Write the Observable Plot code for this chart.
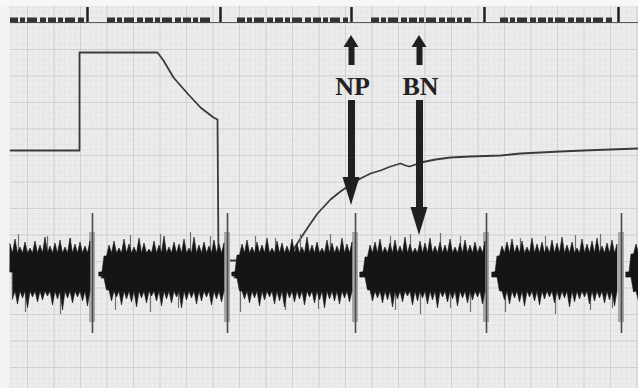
<!DOCTYPE html>
<html><head><meta charset="utf-8">
<script src="https://cdn.jsdelivr.net/npm/d3@7"></script>
<script src="https://cdn.jsdelivr.net/npm/@observablehq/plot@0.6"></script>
<style>html,body{margin:0;padding:0;background:#ececec;overflow:hidden}#chart svg{display:block}</style>
</head><body><div id="chart"></div>
<script>
// ---------- data (units: recorder mm, y downward) ----------
// Top channel: stimulus/event marker
const markerBaseline = 22;
const markerTicks = [87, 220, 351, 484, 618];
const markerBlocks = [[10, 85], [107, 213], [237, 348], [371, 471], [500, 612]];

// Middle channel: pressure trace
const pressure = [
  [10, 150], [79, 150], [79, 52], [157, 52], [163, 60], [173, 77], [187, 93], [200, 107],
  [213, 117], [217, 119], [218, 260], [288, 260], [293, 249], [300, 238], [310, 223],
  [317, 213], [330, 199], [340, 191], [350, 184], [360, 178], [370, 173], [380, 170],
  [390, 166], [400, 163], [405, 165], [409, 166], [415, 164], [420, 162], [435, 159],
  [450, 157], [470, 156], [500, 155], [520, 153], [540, 152], [560, 151], [583, 150],
  [610, 149], [638, 148]
];

// Bottom channel: EMG bursts, peak amplitudes above / below the trace centre, one peak every 5 mm
const emgCentre = 272;
const emgStep = 5;
const emgStarts = [10, 99, 232, 360, 492, 626];
const emgUp = [
  [28,33,25,30,24,31,27,35,26,29,32,25,34,28,30,26,31],
  [-4,16,27,31,24,33,28,25,34,29,23,31,27,36,25,30,28,33,24,35,27,30,26,32,28,29],
  [-4,17,28,32,25,30,27,34,24,31,29,26,33,28,25,35,27,30,24,32,29,26,34,28,30],
  [-5,15,27,30,33,25,29,32,26,35,28,24,31,29,34,26,30,27,33,25,29,32,27,30,26,31],
  [-5,16,26,30,33,27,31,25,34,28,30,26,32,29,35,27,30,24,33,28,31,34,26,29,32,28],
  [-5,18,28,31]
];
const emgDown = [
  [27,32,26,36,25,30,28,24,33,27,38,26,31,25,29,34,27],
  [6,18,29,25,33,27,30,35,26,31,24,29,34,27,31,25,36,28,26,32,29,25,33,27,30,28],
  [6,19,27,31,26,34,28,25,32,29,35,26,30,27,33,25,31,28,36,27,29,32,26,30,28],
  [5,18,29,26,31,28,35,27,30,24,33,29,26,32,28,36,25,30,27,34,26,31,28,25,32,29],
  [5,19,28,32,26,30,34,25,29,33,27,25,31,28,26,35,30,27,25,32,29,26,31,28,34,29],
  [5,20,29,27]
];
// occasional taller grey excursions [position, amplitude]
const strayUp = [[18,38],[47,36],[70,34],[130,37],[160,38],[190,40],[210,36],[255,36],[275,34],[300,38],[330,38],[390,36],[410,38],[440,39],[460,36],[520,34],[545,36],[575,37],[600,38]];
const strayDown = [[25,40],[60,42],[115,38],[150,40],[178,36],[240,40],[285,38],[318,37],[395,38],[420,42],[450,36],[470,40],[505,40],[555,42],[590,38],[612,36]];
// stimulus artefacts crossing the EMG channel
const artefacts = [92, 227, 355, 486, 621];
const artefactTop = 213, artefactBottom = 333;

// Annotations
const labels = ["NP", "BN"];
const labelX = [352, 420];
const labelY = 86;
const arrowUpTip = 35;
const arrowDownTip = [205, 235];

// ---------- build tables ----------
const emgCore = 19; // depth of the troughs between peaks (drawing style)
function jagged(side, amps, offset) {
  const out = [];
  emgStarts.forEach((s, b) => {
    const a = amps[b];
    const last = s + (emgUp[b].length - 1) * emgStep;
    a.forEach((v, i) => {
      const x = s + offset + i * emgStep;
      if (x > last) return;
      out.push({burst: b, x, amp: v});
      if (i < a.length - 1 && x + emgStep / 2 <= last)
        out.push({burst: b, x: x + emgStep / 2, amp: Math.min(emgCore, v, a[i + 1])});
    });
  });
  return out.map(d => ({...d, y: emgCentre + side * d.amp}));
}
const emgTop = jagged(-1, emgUp, 0);
const emgBottom = jagged(1, emgDown, emgStep / 2);

const headLen = 28, headUpLen = 12, headHalf = 7.5;
const heads = [];
labelX.forEach((x, k) => {
  const xs = x - 1;
  heads.push({z: "u" + k, x: xs - headHalf, y1: arrowUpTip + headUpLen, y2: arrowUpTip + headUpLen});
  heads.push({z: "u" + k, x: xs, y1: arrowUpTip + headUpLen, y2: arrowUpTip});
  heads.push({z: "u" + k, x: xs + headHalf, y1: arrowUpTip + headUpLen, y2: arrowUpTip + headUpLen});
  const b = arrowDownTip[k] - headLen;
  heads.push({z: "d" + k, x: xs - headHalf - 1, y1: b, y2: b});
  heads.push({z: "d" + k, x: xs, y1: b, y2: arrowDownTip[k]});
  heads.push({z: "d" + k, x: xs + headHalf + 1, y1: b, y2: b});
});
const arrowRows = labelX.map((x, k) => ({x: x - 1, tip: arrowDownTip[k]}));

const W = 638, H = 388;
const majorX = d3.range(0.5, W, 26.5).filter(v => v > 10);
const majorY = d3.range(22.5, H, 26.5);
const minorX = d3.range(0.5, W, 5.3).filter(v => v > 10);
const minorY = d3.range(1.3, H, 5.3).filter(v => v > 6);

const chart = Plot.plot({
  width: W, height: H, margin: 0,
  x: {domain: [0, W], axis: null},
  y: {domain: [0, H], reverse: true, axis: null},
  style: {background: "#ececec"},
  marks: [
    Plot.ruleX(minorX, {y1: 6, y2: H, stroke: "#d9d9d9", strokeWidth: 0.8, strokeDasharray: "1,1.65"}),
    Plot.ruleY(minorY, {x1: 10, x2: W, stroke: "#d9d9d9", strokeWidth: 0.8, strokeDasharray: "1,1.65"}),
    Plot.ruleX(majorX, {y1: 6, y2: H, stroke: "#d0d0d0", strokeWidth: 1}),
    Plot.ruleY(majorY, {x1: 10, x2: W, stroke: "#d0d0d0", strokeWidth: 1}),
    Plot.rect([0], {x1: 0, x2: 9, y1: 0, y2: H, fill: "#f3f3f3"}),
    Plot.rect([0], {x1: 0, x2: W, y1: 0, y2: 6, fill: "#f7f7f7"}),
    // event marker channel
    Plot.ruleY([markerBaseline], {x1: 10, x2: W, stroke: "#5a5a5a", strokeWidth: 1.1}),
    Plot.ruleY(markerBlocks, {y: 19.5, x1: d => d[0], x2: d => d[1], stroke: "#333", strokeWidth: 5, strokeDasharray: "8,2,5,2,10,3,6,2"}),
    Plot.ruleX(markerTicks, {y1: 7, y2: markerBaseline, stroke: "#1e1e1e", strokeWidth: 2.5}),
    // pressure trace
    Plot.line(pressure, {x: d => d[0], y: d => d[1], stroke: "#3a3a3a", strokeWidth: 1.8}),
    // EMG
    Plot.rect(artefacts, {x1: d => d - 3, x2: d => d + 3, y1: 232, y2: 322, fill: "#a8a8a8"}),
    Plot.ruleX(strayUp, {x: d => d[0], y1: emgCentre, y2: d => emgCentre - d[1], stroke: "#707070", strokeWidth: 1.2}),
    Plot.ruleX(strayDown, {x: d => d[0], y1: emgCentre, y2: d => emgCentre + d[1], stroke: "#707070", strokeWidth: 1.2}),
    Plot.areaY(emgTop, {x: "x", y1: emgCentre, y2: "y", z: "burst", fill: "#151515", stroke: "#151515", strokeWidth: 0.6}),
    Plot.areaY(emgBottom, {x: "x", y1: emgCentre, y2: "y", z: "burst", fill: "#151515", stroke: "#151515", strokeWidth: 0.6}),
    Plot.ruleX(artefacts, {y1: artefactTop, y2: artefactBottom, stroke: "#4a4a4a", strokeWidth: 1.6}),
    // arrows
    Plot.ruleX(arrowRows, {x: "x", y1: arrowUpTip + headUpLen - 1, y2: 65, stroke: "#202020", strokeWidth: 6}),
    Plot.ruleX(arrowRows, {x: "x", y1: 100, y2: d => d.tip - headLen + 1, stroke: "#202020", strokeWidth: 7}),
    Plot.areaY(heads, {x: "x", y1: "y1", y2: "y2", z: "z", fill: "#202020"}),
    Plot.text(labels, {x: (d, i) => labelX[i], y: labelY, text: d => d, fontFamily: "Liberation Serif", fontWeight: "bold", fontSize: 26, fill: "#222"})
  ]
});
document.getElementById("chart").append(chart);
</script>
</body></html>
